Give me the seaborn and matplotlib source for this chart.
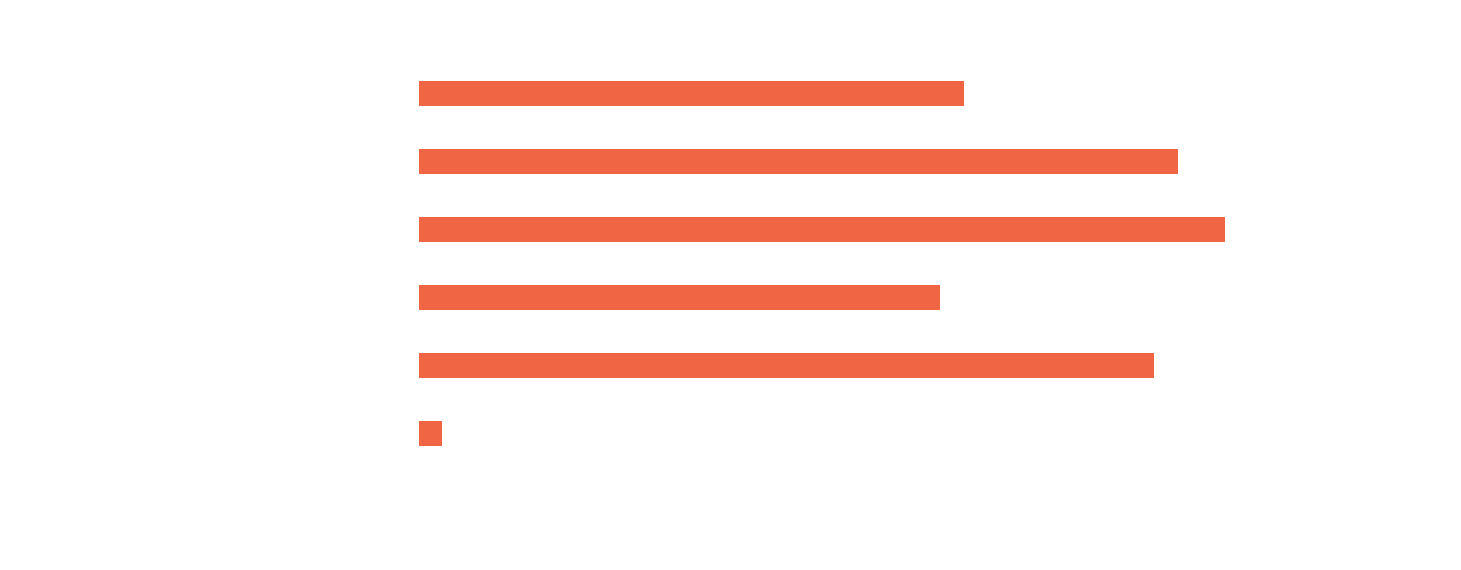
import pandas as pd
import matplotlib
matplotlib.use("Agg")
import matplotlib.pyplot as plt
import seaborn as sns

# --- DATA (relative scale 0-100) ---
categories = ['c1', 'c2', 'c3', 'c4', 'c5', 'c6']
values = [54.5, 75.9, 80.6, 52.1, 73.5, 2.3]

BAR_COLOR = '#F06544'

df = pd.DataFrame({'category': categories, 'value': values})

sns.set_theme(style="white")

fig = plt.figure(figsize=(14.61, 5.70), dpi=100)
ax = fig.add_axes([418.6 / 1461, (570 - 467.5) / 570, 1000 / 1461, 408 / 570])

sns.barplot(data=df, x='value', y='category', orient='h', color=BAR_COLOR,
            saturation=1, width=0.355, linewidth=0, ax=ax)

ax.set_xlim(0, 100)
ax.set_ylim(5.5, -0.5)

# no axes, ticks or labels in the reference
ax.set_xlabel('')
ax.set_ylabel('')
ax.set_xticks([])
ax.set_yticks([])
sns.despine(ax=ax, left=True, bottom=True)

fig.savefig('out.png', dpi=100, facecolor='white')
plt.close(fig)
